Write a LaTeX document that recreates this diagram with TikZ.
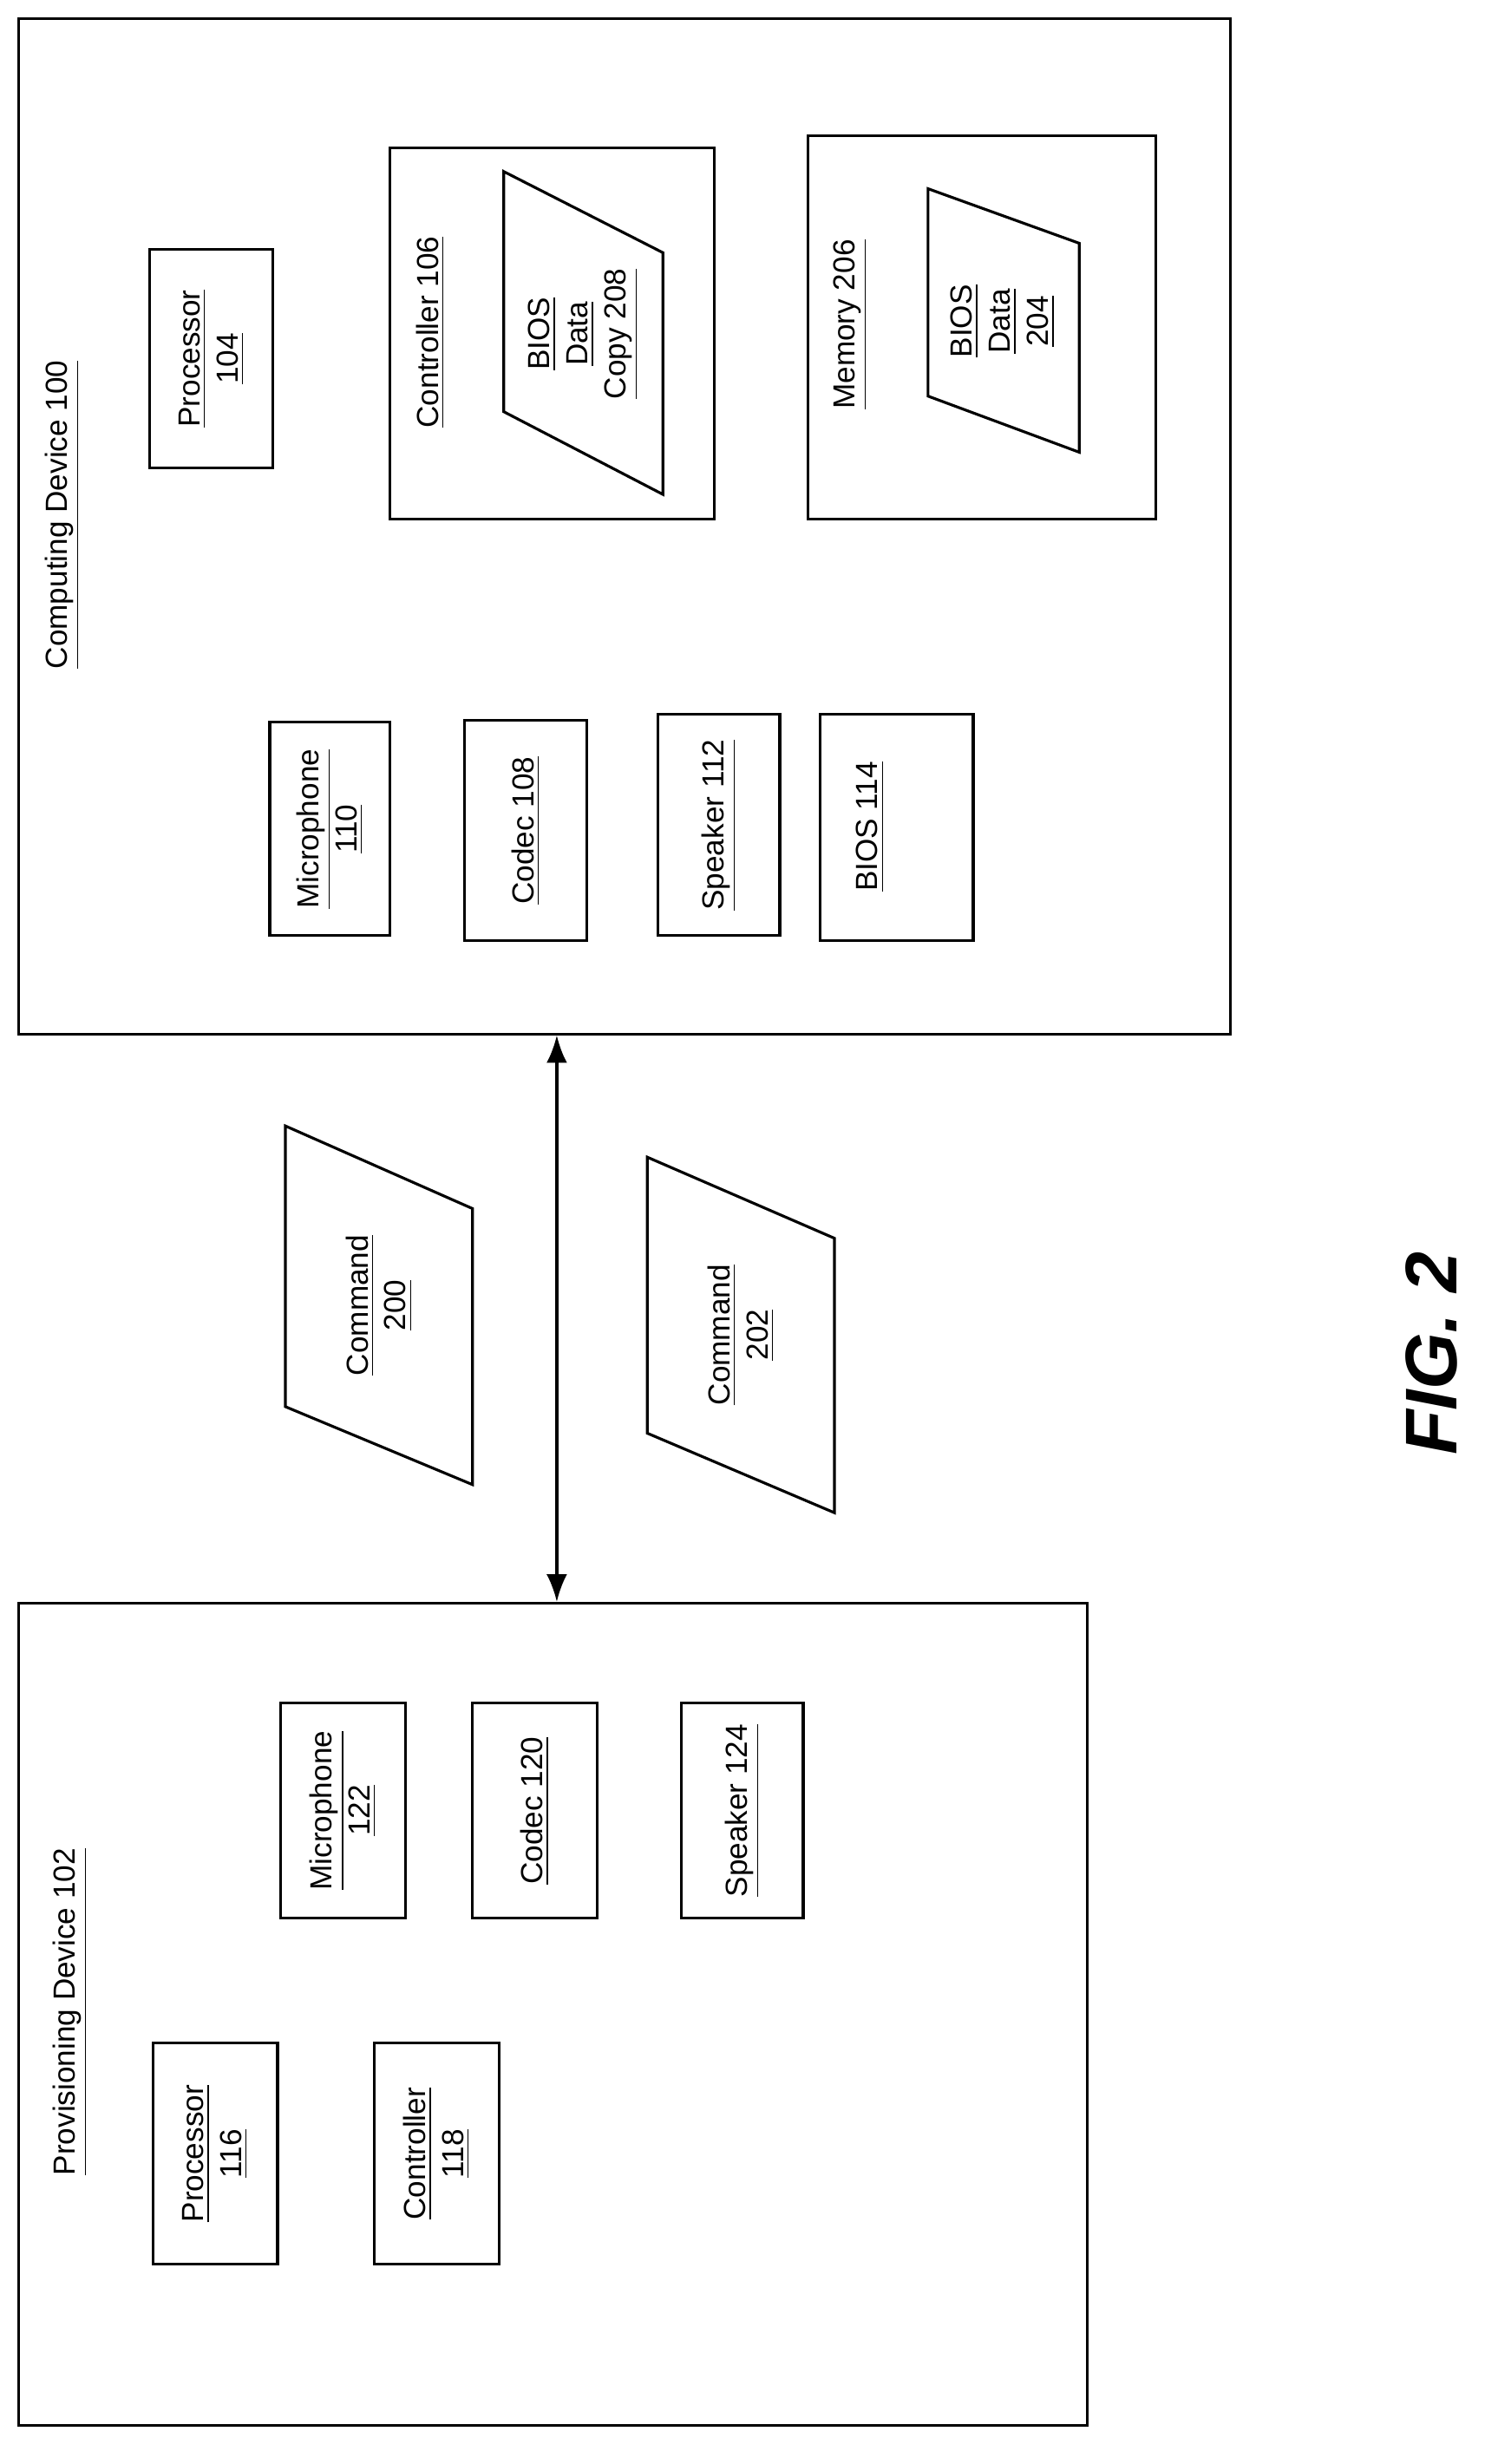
\documentclass[tikz,border=0pt]{standalone}
\usepackage{fontspec}
\setmainfont{Liberation Sans}
\usetikzlibrary{fit,arrows.meta}

\tikzset{
  box/.style = {draw, line width=0.9pt, inner sep=0pt},
  lbl/.style = {rotate=90, font=\fontsize{10}{12.5}\selectfont, align=center},
  para/.style = {draw, line width=0.9pt}
}
\newcommand{\ul}[1]{\underline{#1}}

\begin{document}
\begin{tikzpicture}[x=0.01798cm, y=-0.01798cm]

    \useasboundingbox (0, 0) rectangle (960, 1580);

    % computing device
    \node (cd) [box, fit = {(12, 12) (789, 663)}] {};
    \node (cdl) at (40, 330) [lbl] {\ul{Computing Device 100}};

    \node (p104) [box, fit = {(96, 160) (175, 300)}] {};
    \node at (p104.center) [lbl] {\ul{Processor}\\\ul{104}};

    \node (c106) [box, fit = {(250, 95) (458, 333)}] {};
    \node at (276, 213) [lbl] {\ul{Controller 106}};
    \draw [para] (323, 110) -- (425, 162) -- (425, 317) -- (323, 264) -- cycle;
    \node (b208) at (374, 214) [lbl] {\ul{BIOS}\\\ul{Data}\\\ul{Copy 208}};

    \node (m206) [box, fit = {(518, 87) (741, 333)}] {};
    \node at (545, 208) [lbl] {\ul{Memory 206}};
    \draw [para] (595, 121) -- (692, 156) -- (692, 290) -- (595, 254) -- cycle;
    \node (b204) at (643, 206) [lbl] {\ul{BIOS}\\\ul{Data}\\\ul{204}};

    \node (m110) [box, fit = {(173, 463) (250, 600)}] {};
    \node at (m110.center) [lbl] {\ul{Microphone}\\\ul{110}};

    \node (c108) [box, fit = {(298, 462) (376, 603)}] {};
    \node at (c108.center) [lbl] {\ul{Codec 108}};

    \node (s112) [box, fit = {(422, 458) (500, 600)}] {};
    \node at (s112.center) [lbl] {\ul{Speaker 112}};

    \node (b114) [box, fit = {(526, 458) (624, 603)}] {};
    \node at (558, 530) [lbl] {\ul{BIOS 114}};

    % provisioning device
    \node (pd) [box, fit = {(12, 1028) (697, 1555)}] {};
    \node (pdl) at (45, 1290) [lbl] {\ul{Provisioning Device 102}};

    \node (m122) [box, fit = {(180, 1092) (260, 1230)}] {};
    \node at (m122.center) [lbl] {\ul{Microphone}\\\ul{122}};

    \node (c120) [box, fit = {(303, 1092) (383, 1230)}] {};
    \node at (c120.center) [lbl] {\ul{Codec 120}};

    \node (s124) [box, fit = {(437, 1092) (515, 1230)}] {};
    \node at (s124.center) [lbl] {\ul{Speaker 124}};

    \node (p116) [box, fit = {(98, 1310) (178, 1452)}] {};
    \node at (p116.center) [lbl] {\ul{Processor}\\\ul{116}};

    \node (c118) [box, fit = {(240, 1310) (320, 1452)}] {};
    \node at (c118.center) [lbl] {\ul{Controller}\\\ul{118}};

    % commands
    \draw [para] (183, 722) -- (303, 775) -- (303, 952) -- (183, 902) -- cycle;
    \node (cmd200) at (243, 837) [lbl] {\ul{Command}\\\ul{200}};

    \draw [para] (415, 742) -- (535, 794) -- (535, 970) -- (415, 919) -- cycle;
    \node (cmd202) at (475, 856) [lbl] {\ul{Command}\\\ul{202}};

    \coordinate (ax) at (357, 0);
    \draw [{Latex[length=9pt]}-{Latex[length=9pt]}, line width=0.9pt] (cd.south -| ax) -- (pd.north -| ax);

    \node (fig) at (918, 868) [rotate=90, font=\fontsize{24}{28}\selectfont\bfseries\itshape] {FIG. 2};

\end{tikzpicture}
\end{document}
